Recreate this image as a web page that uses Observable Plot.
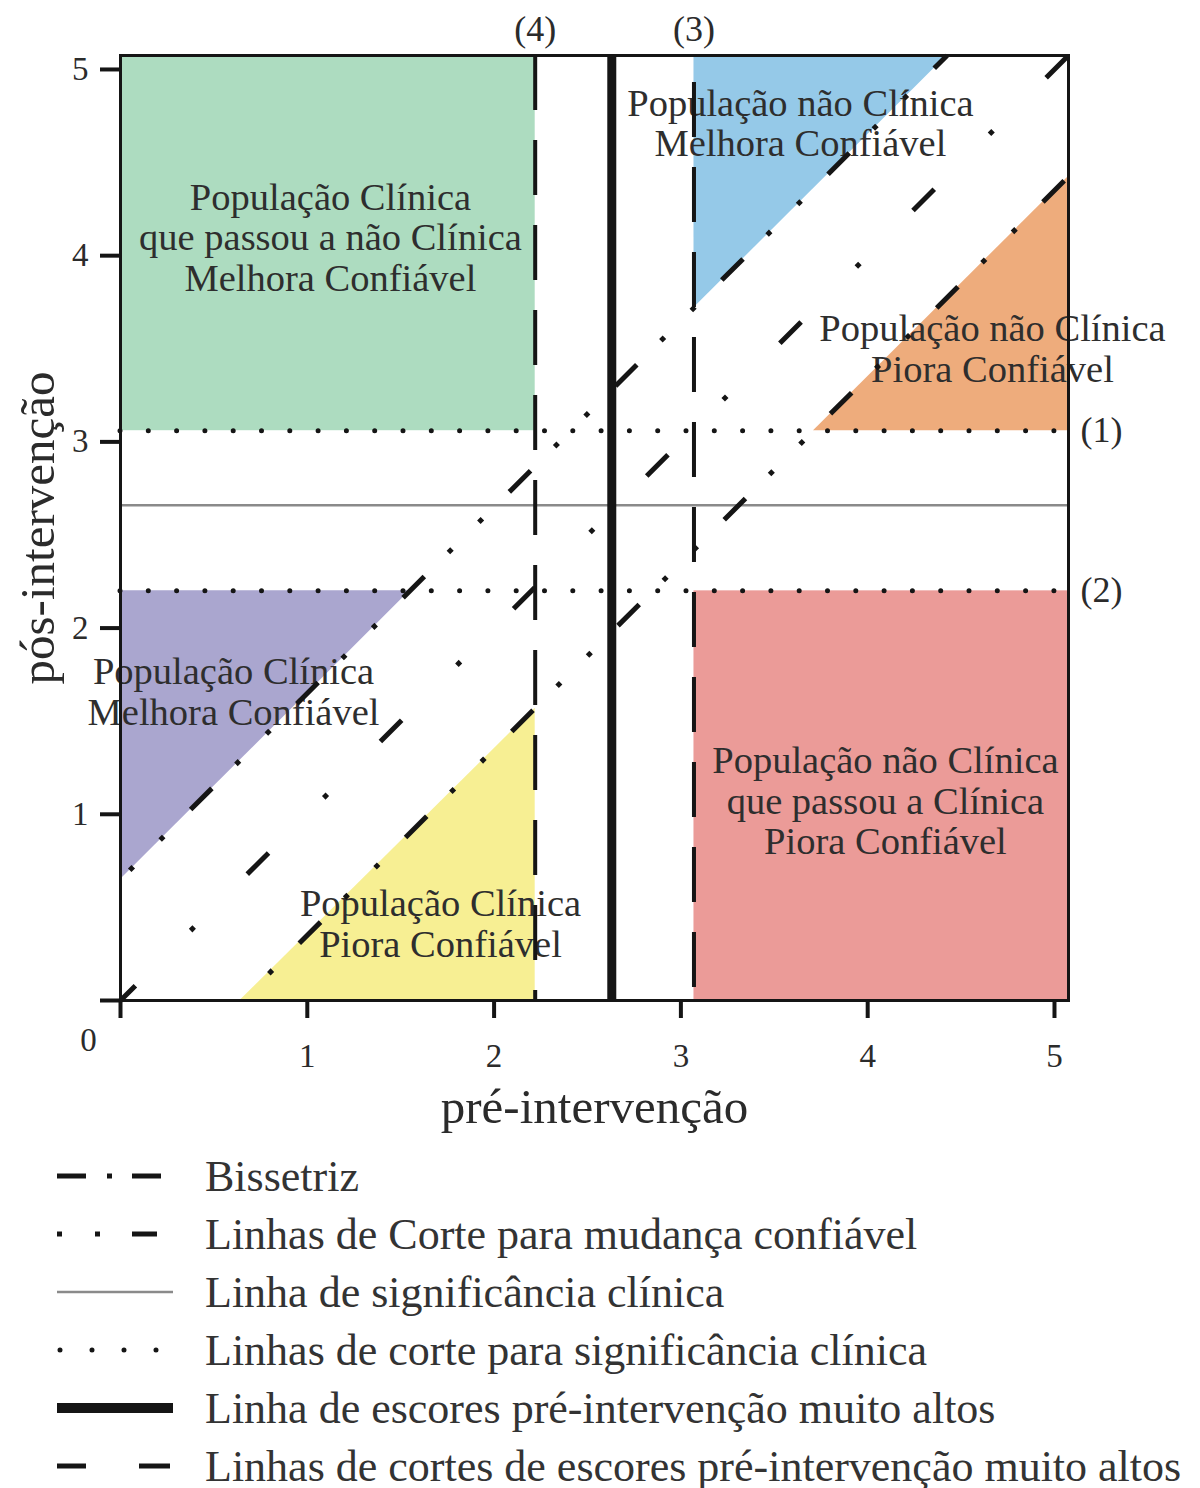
<!DOCTYPE html>
<html><head><meta charset="utf-8">
<script src="https://cdn.jsdelivr.net/npm/d3@7"></script>
<script src="https://cdn.jsdelivr.net/npm/@observablehq/plot@0.6"></script>
<style>
body{margin:0;background:#fff;font-family:"Liberation Serif","Times New Roman",serif;}
#legend{padding-top:17px;}
.row{display:flex;align-items:center;height:58px;}
.row svg{margin-left:57px;width:116px;height:20px;flex:none;overflow:visible;}
.row span{margin-left:32px;font-size:44px;color:#333;white-space:nowrap;}
</style></head><body><div id="chart"></div><div id="legend"></div>
<script>
// ---- axes ----
const xTicks = [0, 1, 2, 3, 4, 5];
const yTicks = [0, 1, 2, 3, 4, 5];
const axisMax = 5.075;
const xLabel = "pré-intervenção";
const yLabel = "pós-intervenção";

// ---- reference lines ----
const clinicalLine = [2.66];              // Linha de significância clínica
const clinicalCuts = [3.06, 2.20];        // (1), (2)
const clinicalCutLabels = ["(1)", "(2)"];
const highLine = [2.63];                  // Linha de escores pré-intervenção muito altos
const highCuts = [2.22, 3.07];            // (4), (3)
const highCutLabels = ["(4)", "(3)"];
const bisector = [{x1: 0, y1: 0, x2: 5.075, y2: 5.075}];
const upperChange = [{x1: 0, y1: 0.65, x2: 4.425, y2: 5.075}];
const lowerChange = [{x1: 0.65, y1: 0, x2: 5.075, y2: 4.425}];

// ---- shaded regions ----
const rectRegions = [
  {key: "verde", x1: 0, x2: 2.22, y1: 3.06, y2: 5.075},
  {key: "vermelho", x1: 3.07, x2: 5.075, y1: 0, y2: 2.20}
];
const blueArea = [{x: 3.07, y1: 3.72, y2: 5.075}, {x: 4.425, y1: 5.075, y2: 5.075}];
const orangeArea = [{x: 3.71, y1: 3.06, y2: 3.06}, {x: 5.075, y1: 3.06, y2: 4.425}];
const purpleArea = [{x: 0, y1: 0.65, y2: 2.20}, {x: 1.55, y1: 2.20, y2: 2.20}];
const yellowArea = [{x: 0.64, y1: 0, y2: 0}, {x: 2.22, y1: 0, y2: 1.57}];

// ---- region labels ----
const regionText = [
  "População Clínica\nque passou a não Clínica\nMelhora Confiável",
  "População não Clínica\nMelhora Confiável",
  "População não Clínica\nPiora Confiável",
  "População Clínica\nMelhora Confiável",
  "População Clínica\nPiora Confiável",
  "População não Clínica\nque passou a Clínica\nPiora Confiável"
];
const regionX = [1.124, 3.64, 4.668, 0.605, 1.713, 4.095];
const regionY = [4.098, 4.713, 3.50, 1.66, 0.416, 1.074];

// ---- legend ----
const legendLabels = [
  "Bissetriz",
  "Linhas de Corte para mudança confiável",
  "Linha de significância clínica",
  "Linhas de corte para significância clínica",
  "Linha de escores pré-intervenção muito altos",
  "Linhas de cortes de escores pré-intervenção muito altos"
];

// ---- styles ----
const fillColors = {verde: "#addcc0", vermelho: "#eb9b98", azul: "#95c9e8", laranja: "#eeac7c", roxo: "#aaa6cf", amarelo: "#f7ef93"};
const ink = "#151515";
const font = '"Liberation Serif","Times New Roman",serif';

const labels = regionText.map((t, i) => ({text: t, x: regionX[i], y: regionY[i]}));
const cutLabelData = clinicalCuts.map((v, i) => ({y: v, text: clinicalCutLabels[i]}));
const highLabelData = highCuts.map((v, i) => ({x: v, text: highCutLabels[i]}));

const chart = Plot.plot({
  width: 1200, height: 1130,
  marginTop: 55, marginLeft: 120, marginRight: 132, marginBottom: 130,
  style: {fontFamily: font, fontSize: "33px", color: "#2b2b2b", background: "#fff", overflow: "visible"},
  x: {domain: [0, axisMax]},
  y: {domain: [0, axisMax]},
  marks: [
    Plot.rect(rectRegions, {x1: "x1", x2: "x2", y1: "y1", y2: "y2", fill: d => fillColors[d.key]}),
    Plot.areaY(blueArea, {x: "x", y1: "y1", y2: "y2", fill: fillColors.azul}),
    Plot.areaY(orangeArea, {x: "x", y1: "y1", y2: "y2", fill: fillColors.laranja}),
    Plot.areaY(purpleArea, {x: "x", y1: "y1", y2: "y2", fill: fillColors.roxo}),
    Plot.areaY(yellowArea, {x: "x", y1: "y1", y2: "y2", fill: fillColors.amarelo}),
    Plot.text(labels, {x: "x", y: "y", text: "text", fontSize: 38.5, lineHeight: 1.06, fill: "#2e2e2e"}),
    Plot.ruleY(clinicalLine, {stroke: "#8a8a8a", strokeWidth: 2.5}),
    Plot.ruleY(clinicalCuts, {stroke: ink, strokeWidth: 5, strokeDasharray: "0,28.3", strokeLinecap: "round"}),
    Plot.ruleX(highLine, {stroke: ink, strokeWidth: 9}),
    Plot.ruleX([highCuts[0]], {stroke: ink, strokeWidth: 4, strokeDasharray: "55,30"}),
    Plot.ruleX([highCuts[1]], {stroke: ink, strokeWidth: 4, strokeDasharray: "55,30", strokeDashoffset: 58}),
    Plot.link(bisector, {x1: "x1", y1: "y1", x2: "x2", y2: "y2", stroke: ink, strokeWidth: 5, strokeDasharray: "30,78,5,75", strokeDashoffset: 9}),
    Plot.link(upperChange, {x1: "x1", y1: "y1", x2: "x2", y2: "y2", stroke: ink, strokeWidth: 5, strokeDasharray: "30,34,5,38,5,38", strokeDashoffset: 51}),
    Plot.link(lowerChange, {x1: "x1", y1: "y1", x2: "x2", y2: "y2", stroke: ink, strokeWidth: 5, strokeDasharray: "30,34,5,38,5,38", strokeDashoffset: 69}),
    Plot.frame({stroke: ink, strokeWidth: 3}),
    Plot.axisX({ticks: xTicks, tickSize: 18, tickPadding: 25, strokeWidth: 4, stroke: ink, tickFormat: d => d === 0 ? "" : d, label: null, fontSize: 33}),
    Plot.axisY({ticks: yTicks, tickSize: 20, tickPadding: 12, strokeWidth: 4, stroke: ink, tickFormat: d => d === 0 ? "" : d, label: null, fontSize: 33}),
    Plot.text([String(xTicks[0])], {x: xTicks[0], y: yTicks[0], dx: -32, dy: 40, fontSize: 33, fill: "#2b2b2b"}),
    Plot.text(cutLabelData, {x: axisMax, y: "y", text: "text", textAnchor: "start", dx: 12, fontSize: 36, fill: "#2b2b2b"}),
    Plot.text(highLabelData, {x: "x", y: axisMax, text: "text", dy: -26, fontSize: 36, fill: "#2b2b2b"}),
    Plot.text([xLabel], {frameAnchor: "bottom", textAnchor: "middle", lineAnchor: "middle", dy: 107, fontSize: 49, fill: "#2b2b2b"}),
    Plot.text([yLabel], {frameAnchor: "left", textAnchor: "middle", lineAnchor: "middle", dx: -82, rotate: -90, fontSize: 49, fill: "#2b2b2b"})
  ]
});
document.getElementById("chart").appendChild(chart);

// legend samples
const samples = [
  '<line x1="0" y1="10" x2="29" y2="10" stroke="#151515" stroke-width="5"/><line x1="50" y1="10" x2="55" y2="10" stroke="#151515" stroke-width="5"/><line x1="75" y1="10" x2="104" y2="10" stroke="#151515" stroke-width="5"/>',
  '<line x1="0" y1="10" x2="5" y2="10" stroke="#151515" stroke-width="5"/><line x1="38" y1="10" x2="43" y2="10" stroke="#151515" stroke-width="5"/><line x1="75" y1="10" x2="100" y2="10" stroke="#151515" stroke-width="5"/>',
  '<line x1="0" y1="10" x2="116" y2="10" stroke="#8a8a8a" stroke-width="2.5"/>',
  '<line x1="3" y1="10" x2="100" y2="10" stroke="#151515" stroke-width="5" stroke-linecap="round" stroke-dasharray="0,32"/>',
  '<line x1="0" y1="10" x2="116" y2="10" stroke="#151515" stroke-width="10"/>',
  '<line x1="0" y1="10" x2="29" y2="10" stroke="#151515" stroke-width="5"/><line x1="82" y1="10" x2="113" y2="10" stroke="#151515" stroke-width="5"/>'
];
const legend = document.getElementById("legend");
legendLabels.forEach((t, i) => {
  const row = document.createElement("div");
  row.className = "row";
  row.innerHTML = `<svg viewBox="0 0 116 20">${samples[i]}</svg><span>${t}</span>`;
  legend.appendChild(row);
});
</script></body></html>
